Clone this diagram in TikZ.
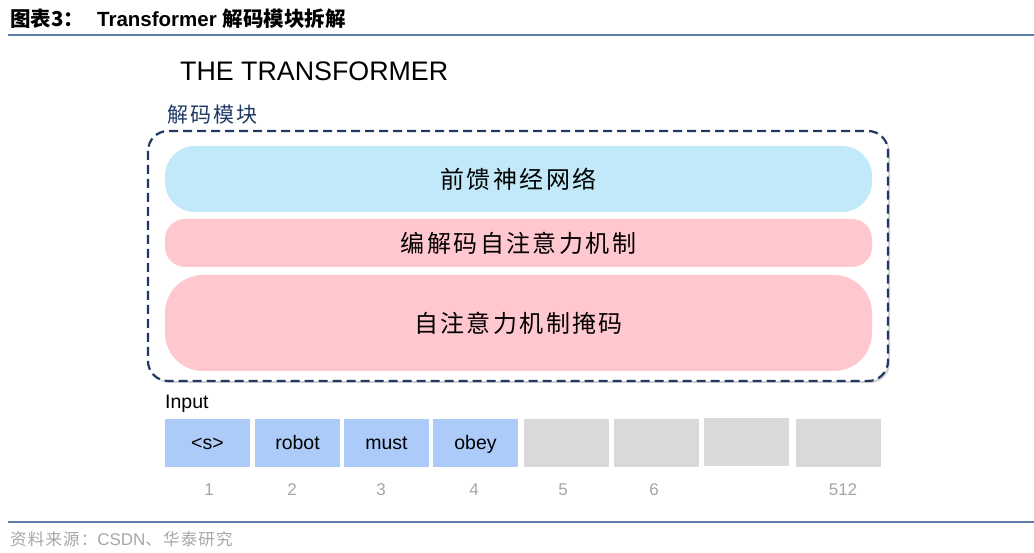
\documentclass[tikz,border=0pt]{standalone}
\usepackage{fontspec}
\setmainfont{Liberation Sans}
\newfontfamily\cjk{Noto Sans CJK SC}
\newfontfamily\cjkwide[LetterSpace=10]{Noto Sans CJK SC}
\newfontfamily\cjksrc[LetterSpace=7]{Noto Sans CJK SC}
\usetikzlibrary{shadows}
\definecolor{rulebl}{HTML}{5B7CA8}
\definecolor{navy}{HTML}{1F3864}
\definecolor{ffnblue}{HTML}{C1E9F9}
\definecolor{attpink}{HTML}{FFC7CE}
\definecolor{tokblue}{HTML}{ACCBF9}
\definecolor{tokgray}{HTML}{D9D9D9}
\definecolor{numgray}{HTML}{A6A6A6}
\tikzset{
  layer/.style={fill=#1,draw=none,minimum width=707pt,anchor=center,
                font=\cjkwide\fontsize{24}{27}\selectfont},
  token/.style={fill=#1,minimum width=85pt,minimum height=48pt,inner sep=0pt,
                text height=15pt,text depth=3pt,font=\fontsize{19.5}{22}\selectfont},
  posnum/.style={text=numgray,font=\fontsize{17}{20}\selectfont},
}
\begin{document}
\begin{tikzpicture}[x=1pt,y=-1pt]
  \useasboundingbox (0,0) rectangle (1034,553);
  % header and footer
  \node[anchor=west,inner sep=0pt,font=\fontsize{20.5}{24}\selectfont\bfseries] (title) at (10,19)
       {{\cjk\bfseries 图表3：}\hspace{13pt}Transformer {\cjk\bfseries 解码模块拆解}};
  \draw[rulebl,line width=2pt] (8,35) -- (1034,35);
  \draw[rulebl,line width=2pt] (8,522) -- (1034,522);
  \node[anchor=west,inner sep=0pt,text=numgray,font=\fontsize{17}{20}\selectfont] (src) at (10,539)
       {{\cjksrc\fontsize{16.5}{19}\selectfont 资料来源：}CSDN{\cjksrc\fontsize{16.5}{19}\selectfont 、华泰研究}};
  % decoder block
  \node[anchor=west,inner sep=0pt,font=\fontsize{26.8}{30}\selectfont] (head) at (180,71) {THE TRANSFORMER};
  \node[anchor=west,inner sep=0pt,text=navy,font=\cjkwide\fontsize{21}{24}\selectfont] (blk) at (167,115) {解码模块};
  \draw[navy,line width=2.2pt,dashed,dash pattern=on 9pt off 5pt,rounded corners=20pt,
        fill=white,drop shadow={opacity=0.35,shadow xshift=2pt,shadow yshift=-2pt}]
       (148,131) rectangle (888,381);
  \node[layer=ffnblue,minimum height=66pt,rounded corners=30pt] (ffn) at (518.5,179) {前馈神经网络};
  \node[layer=attpink,minimum height=48pt,rounded corners=20pt] (encdec) at (518.5,243) {编解码自注意力机制};
  \node[layer=attpink,minimum height=96pt,rounded corners=38pt] (mself) at (518.5,323) {自注意力机制掩码};
  % input tokens
  \node[anchor=west,inner sep=0pt,font=\fontsize{19.5}{22}\selectfont] (inp) at (165,404) {Input};
  \node[token=tokblue] (t1) at (207.5,443) {<s>};
  \node[token=tokblue] (t2) at (297.5,443) {robot};
  \node[token=tokblue] (t3) at (386.5,443) {must};
  \node[token=tokblue] (t4) at (475.5,443) {obey};
  \node[token=tokgray] (t5) at (566,443) {};
  \node[token=tokgray] (t6) at (656,443) {};
  \node[token=tokgray] (t7) at (746.5,442) {};
  \node[token=tokgray] (t8) at (838,443) {};
  \node[posnum] (n1) at (209,490) {1};
  \node[posnum] (n2) at (292,490) {2};
  \node[posnum] (n3) at (381,490) {3};
  \node[posnum] (n4) at (474,490) {4};
  \node[posnum] (n5) at (563,490) {5};
  \node[posnum] (n6) at (654,490) {6};
  \node[posnum] (n8) at (843,490) {512};
\end{tikzpicture}
\end{document}
